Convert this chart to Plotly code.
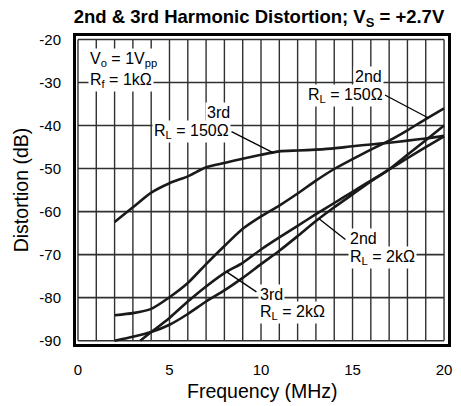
import numpy as np
import plotly.graph_objects as go

# ---------------- data ----------------
freq_3rd_150 = [2, 3, 4, 5, 6, 7, 8, 9, 10, 11, 12, 13, 14, 15, 16, 17, 18, 19, 20]
dist_3rd_150 = [-62.4, -59.0, -55.6, -53.4, -51.8, -49.7, -48.7, -47.7, -46.8, -46.0,
                -45.8, -45.6, -45.3, -44.8, -44.4, -44.0, -43.5, -43.0, -42.4]

freq_2nd_150 = [2, 3, 4, 5, 6, 7, 8, 9, 10, 11, 12, 13, 14, 15, 16, 17, 18, 19, 20]
dist_2nd_150 = [-84.1, -83.6, -82.6, -79.9, -76.6, -72.2, -68.0, -64.0, -61.1, -58.6,
                -55.8, -52.8, -50.1, -47.8, -45.6, -43.5, -41.1, -38.5, -36.0]

freq_2nd_2k = [2, 3, 4, 5, 6, 7, 8, 9, 10, 11, 12, 13, 14, 15, 16, 17, 18, 19, 20]
dist_2nd_2k = [-90.0, -89.1, -88.0, -86.3, -83.8, -80.9, -78.3, -75.4, -72.2, -69.1,
               -65.7, -62.2, -59.0, -56.0, -53.0, -50.2, -46.8, -43.4, -40.0]

freq_3rd_2k = [3.4, 4, 5, 6, 7, 8, 9, 10, 11, 12, 13, 14, 15, 16, 17, 18, 19, 20]
dist_3rd_2k = [-90.0, -88.0, -84.7, -80.9, -77.4, -74.3, -71.9, -68.8, -66.0, -63.3,
               -60.6, -58.0, -55.4, -52.8, -50.2, -47.6, -45.0, -42.5]

x_tick_step = 5      # labelled x ticks: 0, 5, 10, 15, 20
x_grid_step = 1      # vertical grid every 1 MHz
y_ticks = [-20, -30, -40, -50, -60, -70, -80, -90]

FONT = "Liberation Sans, Arial, Helvetica, sans-serif"
INK = "#1a1a1a"
GRID = "#303030"

series = [
    ("3rd, RL=150Ω", freq_3rd_150, dist_3rd_150),
    ("2nd, RL=150Ω", freq_2nd_150, dist_2nd_150),
    ("2nd, RL=2kΩ", freq_2nd_2k, dist_2nd_2k),
    ("3rd, RL=2kΩ", freq_3rd_2k, dist_3rd_2k),
]

fig = go.Figure()

# ---------------- grid as traces (every 1 MHz and every 10 dB) ----------------
grid_x = np.arange(0, 20 + x_grid_step / 2, x_grid_step)
vx, vy = [], []
for gx in grid_x:
    vx += [gx, gx, None]
    vy += [min(y_ticks), max(y_ticks), None]
fig.add_trace(go.Scatter(x=vx, y=vy, mode="lines", line=dict(color=GRID, width=1.4),
                         showlegend=False, hoverinfo="skip"))
hx, hy = [], []
for gy in y_ticks:
    hx += [grid_x[0], grid_x[-1], None]
    hy += [gy, gy, None]
fig.add_trace(go.Scatter(x=hx, y=hy, mode="lines", line=dict(color=GRID, width=1.6),
                         showlegend=False, hoverinfo="skip"))

for name, fx, fy in series:
    fig.add_trace(go.Scatter(x=fx, y=fy, mode="lines", name=name,
                             line=dict(color=INK, width=2.6, shape="spline", smoothing=0.6),
                             showlegend=False, hoverinfo="skip"))

# ---------------- labels ----------------
def label(text, x, y, xanchor):
    fig.add_annotation(x=x, y=y, xref="x", yref="y", text=text, showarrow=False,
                       xanchor=xanchor, yanchor="middle", align=xanchor,
                       bgcolor="white", borderpad=1,
                       font=dict(family=FONT, size=16, color="black"))

def leader(x0, y0, fx_target, fx, fy):
    y1 = float(np.interp(fx_target, fx, fy))
    fig.add_shape(type="line", xref="x", yref="y", x0=x0, y0=y0, x1=fx_target, y1=y1,
                  line=dict(color="black", width=1.3), layer="above")

# Vo / Rf block
label("V<sub>o</sub> = 1V<sub>pp</sub>", 0.55, -24.6, "left")
label("R<sub>f</sub> = 1kΩ", 0.55, -29.6, "left")

# 3rd, RL = 150
leader(8.39, -41.4, 10.65, freq_3rd_150, dist_3rd_150)
label("3rd", 8.42, -37.0, "right")
label("R<sub>L</sub> = 150Ω", 8.37, -41.4, "right")

# 2nd, RL = 150
leader(16.77, -32.9, 19.12, freq_2nd_150, dist_2nd_150)
label("2nd", 16.7, -28.6, "right")
label("R<sub>L</sub> = 150Ω", 16.79, -33.1, "right")

# 2nd, RL = 2k
leader(14.61, -66.5, 13.17, freq_2nd_2k, dist_2nd_2k)
label("2nd", 14.76, -66.2, "left")
label("R<sub>L</sub> = 2kΩ", 14.76, -70.7, "left")

# 3rd, RL = 2k
leader(9.75, -78.65, 8.12, freq_3rd_2k, dist_3rd_2k)
label("3rd", 9.83, -79.2, "left")
label("R<sub>L</sub> = 2kΩ", 9.83, -83.4, "left")

# x-axis title placed as paper annotation for exact vertical position
fig.add_annotation(text="Frequency (MHz)", xref="paper", yref="paper",
                   x=0.5, y=-0.153, xanchor="center", yanchor="middle", showarrow=False,
                   font=dict(family=FONT, size=19.5, color="black"))

fig.update_layout(
    width=461, height=406,
    margin=dict(l=76, r=9, t=36, b=62, pad=0),
    paper_bgcolor="white", plot_bgcolor="white",
    font=dict(family=FONT, color="black"),
    title=dict(text="<b>2nd &amp; 3rd Harmonic Distortion; V<sub>S</sub> = +2.7V</b>",
               x=259 / 461, xref="container", xanchor="center",
               y=1 - 17 / 406, yref="container", yanchor="middle",
               font=dict(family=FONT, size=18.5, color="black")),
    xaxis=dict(range=[-0.108, 20.216], tickmode="linear", tick0=0, dtick=x_tick_step,
               showgrid=False, zeroline=False,
               showline=True, linewidth=3, linecolor="black", mirror=True,
               ticks="outside", ticklen=10, tickcolor="rgba(0,0,0,0)",
               tickfont=dict(family=FONT, size=15, color="black")),
    yaxis=dict(range=[-90.77, -19.19], tickvals=y_ticks, ticktext=[str(v) for v in y_ticks],
               showgrid=False, zeroline=False,
               showline=True, linewidth=3, linecolor="black", mirror=True,
               ticks="outside", ticklen=9, tickcolor="rgba(0,0,0,0)",
               tickfont=dict(family=FONT, size=15, color="black"),
               title=dict(text="Distortion (dB)", standoff=6,
                          font=dict(family=FONT, size=19.5, color="black"))),
)

fig.write_html("out.html")
